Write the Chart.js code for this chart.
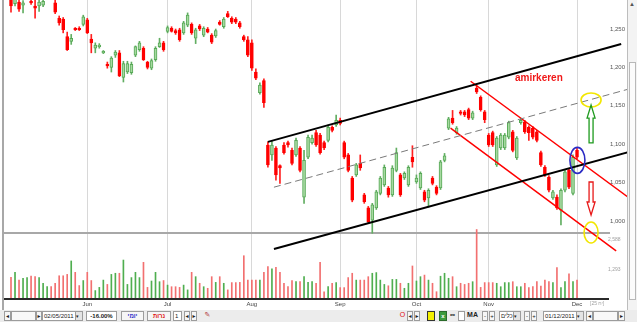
<!DOCTYPE html>
<html>
<head>
<meta charset="utf-8">
<script src="https://cdn.jsdelivr.net/npm/chart.js@4.4.0/dist/chart.umd.min.js"></script>
<style>
  body { margin: 0; background: #fff; }
  #wrap { position: relative; width: 637px; height: 322px; overflow: hidden; background: #fff;
          font-family: "Liberation Sans", "DejaVu Sans", Arial, sans-serif; }
  #chart { position: absolute; left: 0; top: 0; }
  #vscroll { position: absolute; left: 627px; top: 0; width: 10px; height: 310px; background: #f3f3f3;
             border-left: 1px solid #bdbdbd; box-sizing: border-box; }
  #vscroll .thumb { position: absolute; left: 1px; top: 62px; width: 7px; height: 238px; background: #fbfbfb;
                    border: 1px solid #b8b8b8; box-sizing: border-box; }
  #vscroll .up { position: absolute; left: 1px; top: 1px; font-size: 6px; color: #555; }
  #tb { position: absolute; left: 0; top: 310px; width: 637px; height: 12px; background: #ececec;
        font-size: 6px; color: #222; }
  #tb div { position: absolute; top: 1px; height: 10px; box-sizing: border-box; border: 1px solid #9c9c9c;
            background: #fff; line-height: 8px; text-align: center; white-space: nowrap; overflow: hidden; }
  #tb div.btn { background: #f6f6f6; }
  #tb div.plain { border: none; background: transparent; }
  #tb .dd { position: absolute; right: 0; top: 0; width: 6px; height: 8px; background: #e4e4e4;
            border-left: 1px solid #9c9c9c; font-size: 5px; line-height: 8px; }
</style>
</head>
<body>
<div id="wrap">
  <canvas id="chart" width="627" height="310" style="width:627px;height:310px"></canvas>
  <div id="vscroll"><span class="up">▲</span><div class="thumb"></div></div>
  <div id="tb">
    <div class="btn" style="left:4px;width:7px">◂</div>
    <div style="left:11px;width:25px;background:#f8f8f8"></div>
    <div class="btn" style="left:36px;width:6px">▸</div>
    <div style="left:42px;width:41px;text-align:left;padding-left:1px">02/05/2011<span class="dd">▾</span></div>
    <div style="left:86px;width:31px;font-weight:bold">-16.00%</div>
    <div class="btn" style="left:121px;width:23px;color:#2a2ac8;font-weight:bold">יומי</div>
    <div class="btn" style="left:147px;width:24px;color:#e01010;font-weight:bold">נרות</div>
    <div style="left:173px;width:9px;text-align:left;padding-left:1px">1</div>
    <div class="btn" style="left:184px;width:6px">◂</div>
    <div class="btn" style="left:191px;width:6px">▸</div>
    <div class="plain" style="left:203px;width:9px;color:#b03030;font-size:7px">✎</div>
    <div class="plain" style="left:399px;width:7px;color:#e01010;font-size:7px">O</div>
    <div class="btn" style="left:407px;width:6px">◂</div>
    <div class="btn" style="left:414px;width:6px">▸</div>
    <div style="left:427px;width:8px;background:#f4f000;border-color:#333"></div>
    <div style="left:439px;width:8px;background:#3c9a3c;color:#fff;border-color:#2a6a2a;font-weight:bold">x</div>
    <div class="plain" style="left:449px;width:7px;font-weight:bold;font-size:7px">∞</div>
    <div style="left:458px;width:7px"></div>
    <div class="plain" style="left:466px;width:13px;font-weight:bold;font-size:7px">MA</div>
    <div class="btn" style="left:482px;width:6px">-</div>
    <div class="btn" style="left:489px;width:6px">+</div>
    <div style="left:499px;width:22px;text-align:left;padding-left:1px">כלים<span class="dd">▾</span></div>
    <div class="btn" style="left:524px;width:6px">-</div>
    <div class="btn" style="left:531px;width:6px">+</div>
    <div style="left:543px;width:41px;text-align:left;padding-left:1px">01/12/2011<span class="dd">▾</span></div>
    <div class="btn" style="left:586px;width:7px">◂</div>
    <div style="left:593px;width:25px;background:#f8f8f8"></div>
    <div class="btn" style="left:618px;width:7px">▸</div>
  </div>
</div>
<script>
// daily candles, 02/05/2011 .. 01/12/2011 (one per trading day)
const opens = [1288,1283,1285,1281,1292,1286,1280,1280,1281,1292,1296,1284,1264,1263,1240,1234,1251,1251,1256,1262,
  1237,1225,1227,1219,1204,1200,1216,1219,1187,1194,1193,1216,1223,1225,1207,1199,1210,1227,1232,1247,
  1251,1248,1249,1245,1255,1256,1238,1254,1242,1250,1242,1241,1259,1253,1270,1264,1263,1258,1240,1236,
  1232,1194,1167,1183,1099,1086,1095,1072,1099,1102,1092,1086,1095,1031,1083,1102,1115,1112,1102,1105,
  1122,1125,1131,1102,1086,1056,1060,1075,1034,1017,1001,1017,1036,1047,1043,1034,1066,1060,1056,1047,
  1083,1051,1043,1038,1030,1056,1044,1043,1079,1121,1134,1115,1142,1142,1145,1134,1173,1161,1142,1112,
  1115,1073,1095,1095,1109,1116,1082,1128,1129,1122,1121,1116,1089,1070,1057,1030,1031,1014,1040,1066,
  1036,1092];
const highs = [1295,1296,1290,1287,1298,1289,1288,1288,1290,1299,1300,1288,1267,1265,1246,1243,1252,1253,1268,1264,
  1243,1232,1231,1222,1207,1214,1222,1222,1208,1208,1207,1228,1234,1227,1208,1211,1227,1238,1234,1254,
  1253,1250,1251,1260,1271,1258,1251,1256,1253,1252,1244,1250,1261,1265,1273,1266,1265,1260,1242,1240,
  1236,1198,1180,1185,1103,1105,1097,1073,1102,1104,1095,1108,1097,1092,1112,1112,1118,1114,1104,1125,
  1124,1138,1134,1104,1088,1058,1075,1086,1036,1019,1023,1040,1058,1073,1045,1072,1095,1062,1064,1072,
  1098,1060,1064,1040,1042,1058,1046,1079,1088,1135,1144,1123,1144,1144,1147,1143,1176,1163,1144,1114,
  1117,1110,1114,1114,1130,1118,1110,1134,1131,1124,1123,1118,1091,1072,1059,1040,1034,1042,1066,1068,
  1086,1095];
const lows = [1272,1280,1273,1271,1289,1282,1264,1273,1279,1289,1290,1270,1255,1245,1222,1230,1248,1248,1254,1244,
  1219,1219,1225,1218,1199,1194,1213,1188,1181,1192,1191,1214,1221,1209,1198,1197,1208,1226,1221,1245,
  1246,1243,1234,1243,1253,1243,1231,1248,1240,1245,1231,1239,1255,1251,1265,1257,1257,1251,1234,1214,
  1196,1184,1165,1148,1070,1079,1053,1049,1087,1096,1073,1084,1064,1023,1081,1100,1097,1087,1093,1103,
  1116,1123,1125,1081,1064,1025,1058,1066,1023,997,984,1015,1034,1045,1031,1032,1064,1032,1054,1045,
  1070,1049,1041,1025,1018,1047,1034,1041,1077,1119,1126,1113,1138,1136,1132,1132,1166,1143,1128,1097,
  1097,1071,1093,1093,1107,1090,1080,1126,1114,1105,1107,1103,1071,1058,1038,1028,1015,995,1038,1042,
  1034,1081];
const closes = [1280,1292,1276,1284,1295,1284,1277,1285,1286,1295,1293,1272,1258,1249,1223,1238,1249,1249,1266,1245,
  1232,1229,1229,1221,1202,1212,1220,1189,1205,1205,1204,1227,1232,1210,1200,1209,1225,1232,1223,1252,
  1247,1245,1236,1258,1268,1245,1249,1250,1251,1246,1233,1248,1256,1263,1266,1259,1259,1253,1236,1216,
  1199,1186,1177,1154,1073,1099,1060,1069,1089,1099,1075,1105,1066,1079,1109,1108,1099,1089,1095,1122,
  1118,1131,1127,1083,1066,1027,1073,1069,1025,999,1021,1038,1056,1070,1034,1069,1089,1034,1062,1070,
  1077,1056,1062,1027,1040,1049,1036,1077,1085,1133,1128,1121,1140,1138,1134,1141,1168,1145,1132,1099,
  1099,1108,1112,1112,1128,1092,1108,1131,1116,1115,1109,1105,1073,1060,1040,1038,1017,1040,1064,1044,
  1083,1083];
const volumes = [950,1170,830,910,940,1010,980,940,690,540,540,690,1020,1020,1080,1670,1170,590,810,1170,
  810,370,510,830,640,1080,1130,1130,1710,640,940,1170,940,1610,510,790,1170,760,810,610,
  540,540,510,610,400,1170,980,690,540,470,980,730,980,690,400,720,720,730,1900,830,
  830,830,830,1170,1420,1320,1390,1170,690,540,810,760,760,980,730,760,690,1610,320,540,
  690,720,500,500,940,1130,830,830,830,980,1130,1160,830,640,580,860,860,690,470,690,
  1450,790,980,1050,830,690,320,1000,1130,910,980,540,690,640,690,760,3050,510,720,720,
  720,690,540,720,720,760,540,540,690,500,540,760,570,830,760,720,1380,500,760,1100,
  760,830];

const monthNames = ['Jun', 'Jul', 'Aug', 'Sep', 'Oct', 'Nov', 'Dec'];
const monthStart = [19, 39, 60, 82, 101, 119, 141];
const priceTicks = [1000, 1050, 1100, 1150, 1200, 1250];
const volumeTicks = [1293, 2588];
const pricePanelBottom = 984.4;

// hand drawn studies: [day index, price]
const channelTop = [[64, 1103], [152, 1230.5]];
const channelBottom = [[65.5, 963.5], [154, 1090]];
const channelMid = [[65.5, 1044], [154, 1172]];
const downTop = [[114.5, 1182], [154.25, 1029]];
const downBottom = [[109.5, 1121], [150.75, 961]];
const rings = [[144.5, 1157.6, '#f2e600', 10, 7], [141.1, 1079, '#2b2bc4', 7.5, 13], [144.5, 985, '#f2e600', 7, 10.5]];
const arrows = [[144.5, 1151, 1101.6, '#1e9a1e'], [144.5, 1007.8, 1050.8, '#e81818']];
const note = [131.5, 1186, 'amirkeren'];

const family = '"Liberation Sans", "DejaVu Sans", Arial, sans-serif';
Chart.defaults.font.family = family;

const days = opens.map((v, i) => i);
const up = i => closes[i] >= opens[i];
const pts = arr => arr.map(p => ({x: p[0], y: p[1]}));

function trend(arr, color, width, dash) {
    return {
        type: 'line', data: pts(arr), borderColor: color, borderWidth: width, borderDash: dash || [],
        pointRadius: 0, tension: 0, clip: false, order: 0, yAxisID: 'y'
    };
}

const overlay = {
    id: 'overlay',
    beforeDatasetsDraw(chart) {
        const {ctx, chartArea: a, scales} = chart;
        const ySep = scales.y.getPixelForValue(pricePanelBottom);
        ctx.save();
        ctx.strokeStyle = '#a8a8a8';
        ctx.lineWidth = 2;
        ctx.beginPath();
        ctx.moveTo(a.left, ySep);
        ctx.lineTo(a.right + 3, ySep);
        ctx.stroke();
        ctx.restore();
    },
    afterDatasetsDraw(chart) {
        const {ctx, chartArea: a, scales} = chart;
        const x = scales.x, y = scales.y, yv = scales.yv;
        ctx.save();
        // volume baseline + left border
        ctx.strokeStyle = '#2a2a2a';
        ctx.lineWidth = 2;
        ctx.beginPath();
        ctx.moveTo(a.left, a.bottom);
        ctx.lineTo(a.right + 2, a.bottom);
        ctx.stroke();
        ctx.strokeStyle = '#a8a8a8';
        ctx.beginPath();
        ctx.moveTo(a.left - 1, 0);
        ctx.lineTo(a.left - 1, a.bottom + 11);
        ctx.stroke();

        // volume axis labels
        ctx.fillStyle = '#a0a0a0';
        ctx.font = '5px ' + family;
        ctx.textBaseline = 'middle';
        volumeTicks.forEach(v => ctx.fillText(v.toLocaleString('en-US'), a.right + 1, yv.getPixelForValue(v)));
        ctx.fillText('[25 יח]', 590, a.bottom + 5);

        // ellipses
        rings.forEach(r => {
            ctx.strokeStyle = r[2];
            ctx.lineWidth = 1.6;
            ctx.beginPath();
            ctx.ellipse(x.getPixelForValue(r[0]), y.getPixelForValue(r[1]), r[3], r[4], 0, 0, Math.PI * 2);
            ctx.stroke();
        });

        // hollow arrows
        arrows.forEach(ar => {
            const cx = x.getPixelForValue(ar[0]);
            const tip = y.getPixelForValue(ar[1]);
            const tail = y.getPixelForValue(ar[2]);
            const dir = tail > tip ? 1 : -1;
            const head = tip + dir * 13;
            ctx.strokeStyle = ar[3];
            ctx.lineWidth = 1.3;
            ctx.beginPath();
            ctx.moveTo(cx, tip);
            ctx.lineTo(cx + 4, head);
            ctx.lineTo(cx + 2, head);
            ctx.lineTo(cx + 2, tail);
            ctx.lineTo(cx - 2, tail);
            ctx.lineTo(cx - 2, head);
            ctx.lineTo(cx - 4, head);
            ctx.closePath();
            ctx.stroke();
        });

        // text note
        ctx.fillStyle = '#f01818';
        ctx.font = 'bold 10px ' + family;
        ctx.textAlign = 'center';
        ctx.fillText(note[2], x.getPixelForValue(note[0]), y.getPixelForValue(note[1]));
        ctx.restore();
    }
};

new Chart(document.getElementById('chart'), {
    type: 'bar',
    data: {
        datasets: [
            trend(channelTop, '#000000', 2),
            trend(channelBottom, '#000000', 2),
            trend(channelMid, '#7a7a7a', 1, [7, 4]),
            trend(downTop, '#ff0000', 1.5),
            trend(downBottom, '#ff0000', 1.5),
            {
                data: days.map(i => ({x: i, y: [opens[i], closes[i]]})),
                yAxisID: 'y', barThickness: 3, grouped: false, minBarLength: 1, order: 5,
                backgroundColor: days.map(i => up(i) ? '#a6d9a0' : '#ff0000'),
                borderColor: days.map(i => up(i) ? '#56a856' : '#ff0000'),
                borderWidth: 1, borderSkipped: false
            },
            {
                data: days.map(i => ({x: i, y: [lows[i], highs[i]]})),
                yAxisID: 'y', barThickness: 1, grouped: false, order: 6,
                backgroundColor: days.map(i => up(i) ? '#62ae62' : '#ff2020')
            },
            {
                data: days.map(i => ({x: i, y: volumes[i]})),
                yAxisID: 'yv', barThickness: 1, grouped: false, order: 7,
                backgroundColor: days.map(i => up(i) ? '#4fae4f' : '#f27070')
            }
        ]
    },
    options: {
        responsive: false,
        animation: false,
        layout: {padding: {left: 4, right: 0, top: 0, bottom: 0}},
        plugins: {legend: {display: false}, tooltip: {enabled: false}},
        scales: {
            x: {
                type: 'linear', min: -1.744, max: 148.47, offset: false,
                grid: {color: '#d8d8d8', lineWidth: 1, drawTicks: false, offset: false},
                border: {display: false},
                afterBuildTicks: s => { s.ticks = monthStart.map(v => ({value: v})); },
                afterFit: s => { s.height = 11; s.paddingLeft = 0; s.paddingRight = 0; },
                ticks: {
                    autoSkip: false, maxRotation: 0, padding: 2, color: '#444',
                    font: {size: 6}, callback: (v, i) => monthNames[i]
                }
            },
            y: {
                position: 'right', min: 898.4, max: 1287.8,
                grid: {display: false, drawTicks: false},
                border: {display: false},
                afterBuildTicks: s => { s.ticks = priceTicks.map(v => ({value: v})); },
                afterFit: s => { s.width = 20; s.paddingTop = 0; s.paddingBottom = 0; },
                ticks: {padding: 3, color: '#555', font: {size: 6}, callback: v => v.toLocaleString('en-US')}
            },
            yv: {
                position: 'right', min: 0, max: 13126, display: false
            }
        }
    },
    plugins: [overlay]
});
</script>
</body>
</html>
